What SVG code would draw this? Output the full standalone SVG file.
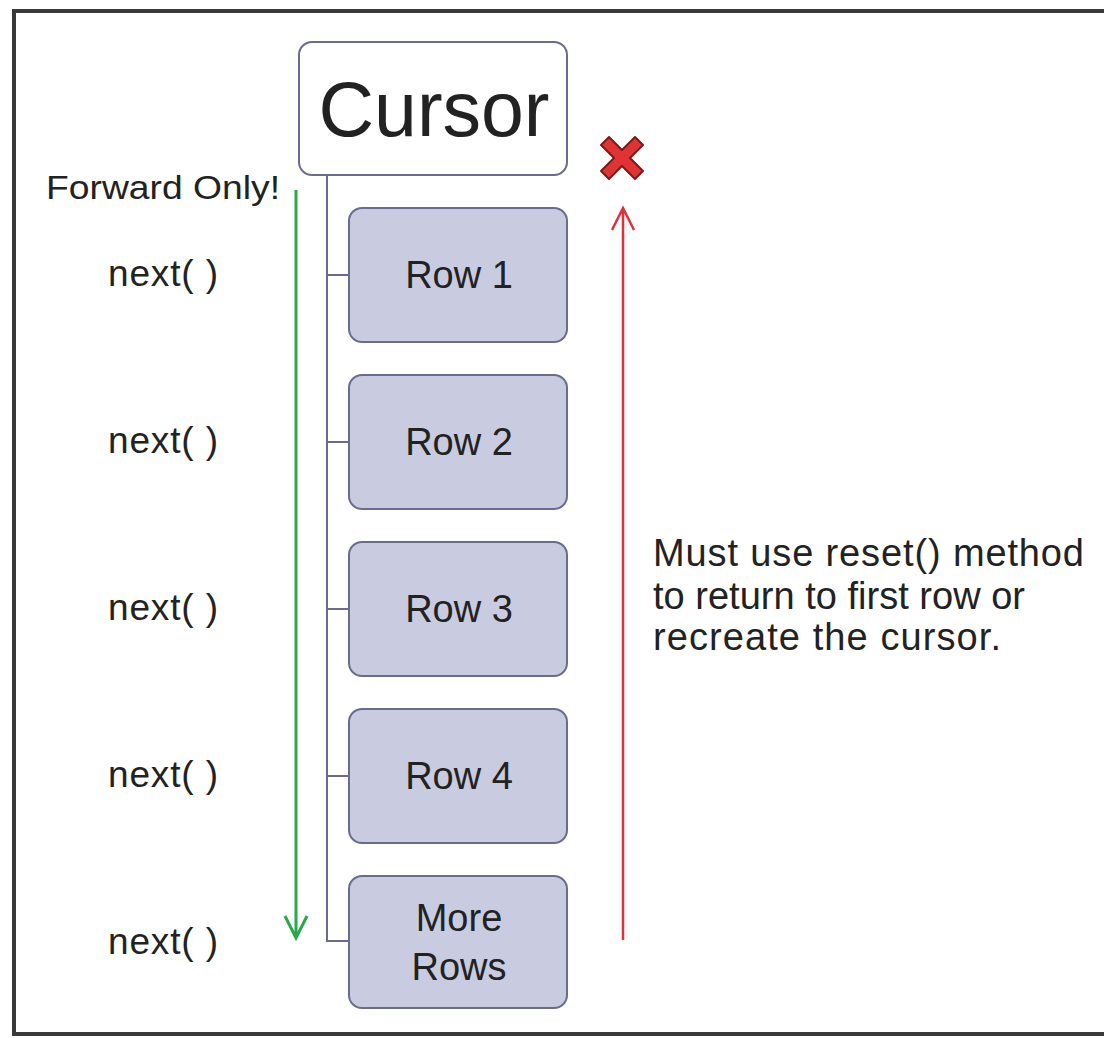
<svg xmlns="http://www.w3.org/2000/svg" width="1104" height="1038" viewBox="0 0 1104 1038">
<style>
.t{font-family:"Liberation Sans",Arial,sans-serif;fill:#222}
.row{fill:#c9cce0;stroke:#6b6b8f;stroke-width:2}
.lbl{font-size:38px;text-anchor:middle}
.nx{font-size:37px}
.con{stroke:#6b6b8f;stroke-width:2;fill:none}
</style>
<rect x="0" y="0" width="1104" height="1038" fill="#fff"/>
<rect x="14" y="11" width="1110" height="1023" fill="none" stroke="#3a3a3a" stroke-width="4"/>
<g id="connectors">
<path class="con" d="M327 175 V941 H350"/>
<path class="con" d="M327 275 H350 M327 442 H350 M327 609 H350 M327 776 H350"/>
<path d="M296 190 V938 M285 916 L296 938 L307 916" fill="none" stroke="#2aa84a" stroke-width="3"/>
<path d="M623 940 V208 M612 230 L623 208 L634 230" fill="none" stroke="#e0303a" stroke-width="2.5"/>
</g>
<g id="cursor">
<rect x="299" y="42" width="268" height="133" rx="13" fill="#fff" stroke="#6b6b8f" stroke-width="2"/>
<text class="t" x="434" y="136" font-size="77" text-anchor="middle">Cursor</text>
</g>
<g id="row1"><rect class="row" x="349" y="208" width="218" height="134" rx="13"/><text class="t lbl" x="459" y="288">Row 1</text></g>
<g id="row2"><rect class="row" x="349" y="375" width="218" height="134" rx="13"/><text class="t lbl" x="459" y="455">Row 2</text></g>
<g id="row3"><rect class="row" x="349" y="542" width="218" height="134" rx="13"/><text class="t lbl" x="459" y="622">Row 3</text></g>
<g id="row4"><rect class="row" x="349" y="709" width="218" height="134" rx="13"/><text class="t lbl" x="459" y="789">Row 4</text></g>
<g id="more"><rect class="row" x="349" y="876" width="218" height="132" rx="13"/><text class="t lbl" x="459" y="931">More</text><text class="t lbl" x="459" y="980">Rows</text></g>
<g id="x-mark">
<path d="M601 145 L609 137 L622 150 L635 137 L643 145 L630 158 L643 171 L635 179 L622 166 L609 179 L601 171 L614 158 Z" fill="#e03333" stroke="#7a1a1a" stroke-width="2" stroke-linejoin="round"/>
</g>
<g id="labels">
<text class="t" x="46" y="199" font-size="34" textLength="234" lengthAdjust="spacingAndGlyphs">Forward Only!</text>
<text class="t nx" x="108" y="286" textLength="110">next( )</text>
<text class="t nx" x="108" y="453" textLength="110">next( )</text>
<text class="t nx" x="108" y="620" textLength="110">next( )</text>
<text class="t nx" x="108" y="787" textLength="110">next( )</text>
<text class="t nx" x="108" y="954" textLength="110">next( )</text>
<text class="t" x="653" y="566" font-size="38" textLength="431">Must use reset() method</text>
<text class="t" x="653" y="609" font-size="38" textLength="372">to return to first row or</text>
<text class="t" x="653" y="650" font-size="38" textLength="348">recreate the cursor.</text>
</g>
</svg>
